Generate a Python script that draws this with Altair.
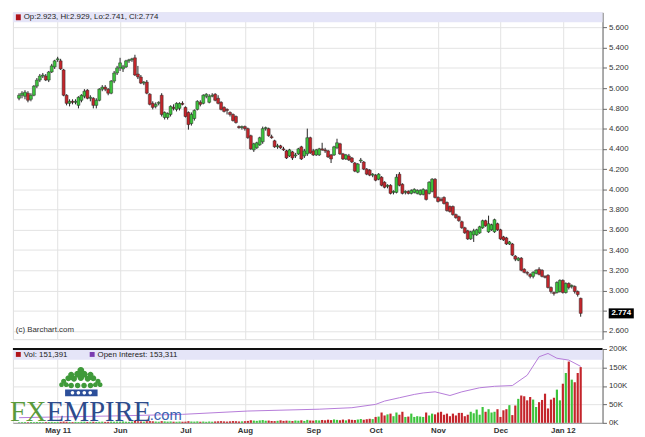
import altair as alt
import pandas as pd

# ---------------- data ----------------
opens = [4.90,4.93,4.92,4.95,4.89,4.93,5.02,5.08,5.12,5.12,
         5.08,5.16,5.21,5.28,5.27,5.18,4.93,4.85,4.87,4.86,
         4.83,4.88,4.92,4.98,4.90,4.90,4.83,4.88,4.99,5.01,
         4.99,4.95,5.07,5.15,5.20,5.19,5.21,5.27,5.28,5.30,
         5.14,5.11,5.05,5.06,4.94,4.85,4.82,4.85,4.93,4.71,
         4.71,4.74,4.81,4.79,4.80,4.85,4.81,4.76,4.65,4.70,
         4.79,4.86,4.85,4.92,4.86,4.92,4.94,4.90,4.86,4.81,
         4.79,4.76,4.74,4.72,4.62,4.61,4.62,4.60,4.53,4.39,
         4.41,4.44,4.47,4.60,4.60,4.52,4.48,4.42,4.43,4.40,
         4.38,4.33,4.37,4.33,4.35,4.42,4.33,4.35,4.51,4.38,
         4.34,4.34,4.40,4.39,4.38,4.34,4.34,4.41,4.45,4.35,
         4.30,4.33,4.31,4.26,4.17,4.28,4.27,4.20,4.19,4.14,
         4.14,4.10,4.12,4.07,4.03,4.04,3.97,3.97,4.15,4.05,
         3.97,3.98,3.96,3.97,3.96,3.95,3.95,3.99,3.96,3.98,
         4.10,3.92,3.90,3.92,3.87,3.83,3.83,3.75,3.73,3.68,
         3.62,3.59,3.51,3.55,3.55,3.57,3.62,3.69,3.58,3.60,
         3.58,3.66,3.60,3.53,3.52,3.46,3.46,3.34,3.30,3.32,
         3.21,3.18,3.16,3.14,3.17,3.21,3.20,3.14,3.15,3.03,
         2.98,2.98,2.99,3.10,2.98,3.07,3.04,3.04,2.99,2.923]
highs = [4.95,4.97,4.98,4.97,4.95,5.03,5.10,5.14,5.15,5.14,
         5.17,5.24,5.28,5.31,5.29,5.19,4.94,4.89,4.89,4.89,
         4.92,4.94,4.99,4.99,4.93,4.91,4.90,5.00,5.03,5.03,
         5.00,5.08,5.17,5.22,5.30,5.23,5.28,5.29,5.30,5.33,
         5.22,5.13,5.07,5.08,4.95,4.87,4.86,4.87,4.95,4.77,
         4.76,4.83,4.84,4.86,4.86,4.87,4.82,4.77,4.76,4.79,
         4.88,4.88,4.94,4.95,4.94,4.95,4.95,4.93,4.87,4.82,
         4.80,4.77,4.75,4.73,4.63,4.63,4.63,4.61,4.54,4.46,
         4.47,4.52,4.62,4.62,4.61,4.54,4.49,4.45,4.44,4.42,
         4.39,4.40,4.38,4.36,4.41,4.43,4.40,4.60,4.52,4.40,
         4.40,4.41,4.46,4.41,4.39,4.35,4.43,4.50,4.46,4.36,
         4.35,4.35,4.32,4.27,4.26,4.31,4.28,4.21,4.20,4.16,
         4.15,4.16,4.13,4.08,4.05,4.05,3.99,4.15,4.17,4.06,
         3.99,3.99,4.00,4.01,4.00,4.00,4.01,4.00,4.08,4.11,
         4.11,3.93,3.92,3.93,3.88,3.84,3.84,3.76,3.74,3.69,
         3.63,3.60,3.59,3.61,3.61,3.64,3.70,3.70,3.74,3.66,
         3.71,3.67,3.61,3.54,3.53,3.49,3.47,3.35,3.33,3.33,
         3.22,3.19,3.17,3.19,3.21,3.23,3.21,3.15,3.16,3.04,
         2.99,3.09,3.11,3.11,3.08,3.08,3.06,3.05,3.00,2.929]
lows = [4.88,4.90,4.89,4.86,4.87,4.92,5.00,5.06,5.10,5.07,
        5.06,5.15,5.19,5.26,5.18,4.92,4.83,4.82,4.84,4.84,
        4.80,4.86,4.90,4.89,4.87,4.80,4.80,4.87,4.97,4.97,
        4.93,4.94,5.05,5.13,5.17,5.16,5.20,5.25,5.26,5.12,
        5.09,5.04,5.03,4.94,4.83,4.79,4.80,4.83,4.72,4.69,
        4.69,4.72,4.78,4.77,4.78,4.83,4.71,4.59,4.63,4.68,
        4.78,4.82,4.84,4.90,4.85,4.91,4.87,4.84,4.78,4.76,
        4.74,4.72,4.67,4.65,4.60,4.59,4.58,4.50,4.39,4.37,
        4.40,4.43,4.45,4.58,4.52,4.50,4.41,4.40,4.40,4.38,
        4.30,4.32,4.29,4.31,4.34,4.29,4.31,4.33,4.35,4.33,
        4.33,4.33,4.38,4.36,4.31,4.26,4.33,4.40,4.34,4.29,
        4.29,4.28,4.26,4.17,4.16,4.26,4.19,4.14,4.13,4.12,
        4.08,4.09,4.03,4.01,4.01,3.95,3.95,3.96,4.03,3.95,
        3.95,3.95,3.95,3.96,3.95,3.94,3.94,3.89,3.95,3.97,
        3.91,3.87,3.88,3.85,3.78,3.77,3.74,3.71,3.68,3.61,
        3.56,3.50,3.50,3.48,3.54,3.56,3.61,3.63,3.57,3.59,
        3.57,3.59,3.50,3.49,3.45,3.45,3.34,3.29,3.29,3.19,
        3.17,3.15,3.12,3.12,3.16,3.15,3.13,3.12,3.02,2.97,
        2.95,2.97,2.98,2.97,2.97,3.01,3.02,2.97,2.94,2.741]
closes = [4.93,4.95,4.96,4.88,4.93,5.02,5.08,5.12,5.13,5.08,
          5.16,5.22,5.27,5.29,5.19,4.93,4.85,4.87,4.86,4.87,
          4.91,4.93,4.97,4.90,4.91,4.83,4.88,4.99,5.01,4.99,
          4.95,5.07,5.15,5.20,5.25,5.21,5.27,5.28,5.29,5.13,
          5.11,5.05,5.06,4.95,4.84,4.81,4.84,4.86,4.74,4.76,
          4.75,4.82,4.80,4.85,4.85,4.84,4.72,4.64,4.74,4.78,
          4.87,4.84,4.93,4.94,4.92,4.93,4.88,4.85,4.79,4.77,
          4.78,4.74,4.68,4.66,4.61,4.62,4.60,4.51,4.40,4.45,
          4.46,4.51,4.60,4.61,4.53,4.51,4.42,4.43,4.41,4.39,
          4.31,4.39,4.31,4.34,4.40,4.30,4.38,4.51,4.36,4.34,
          4.39,4.40,4.39,4.38,4.32,4.30,4.42,4.46,4.35,4.30,
          4.34,4.29,4.27,4.18,4.25,4.29,4.20,4.15,4.14,4.15,
          4.09,4.15,4.04,4.02,4.04,3.96,3.98,4.12,4.04,3.96,
          3.98,3.96,3.99,4.00,3.99,3.99,4.00,3.90,4.07,4.10,
          3.92,3.88,3.89,3.86,3.79,3.78,3.75,3.72,3.69,3.62,
          3.57,3.51,3.58,3.59,3.60,3.63,3.69,3.64,3.66,3.65,
          3.70,3.60,3.51,3.50,3.46,3.48,3.35,3.31,3.32,3.20,
          3.18,3.17,3.14,3.18,3.20,3.16,3.14,3.13,3.03,2.99,
          2.97,3.08,3.10,2.98,3.07,3.03,3.05,2.99,2.96,2.774]
volume_k = [1.5,1.8,2.0,1.6,2.2,1.9,2.4,2.1,1.7,2.0,2.3,2.6,2.2,
            2.5,2.8,3.5,3.0,2.4,2.0,2.6,2.2,2.9,3.1,2.5,2.7,3.0,2.4,2.8,3.2,2.6,2.9,3.3,3.0,3.5,
            3.2,3.8,3.0,2.7,3.4,5.2,4.0,3.6,3.1,4.4,4.8,4.2,3.5,3.0,4.6,3.9,3.3,3.7,3.1,2.9,3.4,3.0,
            3.2,4.5,3.6,3.3,3.9,3.0,3.5,2.8,3.6,3.1,3.8,4.2,4.6,3.9,3.4,4.1,4.8,4.4,3.7,4.0,
            4.5,5.2,7.0,6.1,5.4,6.6,7.5,5.8,6.2,5.0,4.7,5.5,6.8,5.3,6.0,5.6,4.9,6.3,5.7,6.9,5.2,8.0,6.4,
            6.0,7.2,6.5,7.8,6.9,8.5,7.4,9.2,8.0,7.1,8.8,6.7,9.5,8.2,7.6,9.0,10.5,8.4,9.8,11.0,10.2,
            16,17,28,20,23,25,18,28,22,30,16,17,25,16,18,17,16,28,20,25,23,
            28,30,22,25,18,25,20,27,27,18,22,30,26,36,22,43,30,37,28,30,37,
            16,34,37,48,21,47,65,74,72,61,70,63,43,56,62,79,39,63,68,90,61,
            106,135,166,117,110,135,151]
oi_idx = [0, 13, 34, 55, 77, 101, 112, 120, 123, 128, 133, 136, 140, 145, 149,
          155, 160, 166, 171, 175, 178, 181, 185, 189]
oi_k = [14, 16, 19, 23, 32, 37, 41, 50, 59, 68, 77, 81, 84, 74, 84,
        95, 99, 101, 129, 179, 188, 175, 170, 153]
month_idx = [13, 34, 56, 76, 99, 120, 141, 162, 183]
month_lbl = ["May 11", "Jun", "Jul", "Aug", "Sep", "Oct", "Nov", "Dec", "Jan 12"]
price_ticks = [2.6, 2.8, 3.0, 3.2, 3.4, 3.6, 3.8, 4.0, 4.2, 4.4, 4.6, 4.8, 5.0, 5.2, 5.4, 5.6]
vol_ticks = [0, 50000, 100000, 150000, 200000]
vol_total = 151391
oi_total = 153311

# ---------------- tables ----------------
n = len(opens)
df = pd.DataFrame({
    "i": list(range(n)), "o": opens, "h": highs, "l": lows, "c": closes,
    "v": [v * 1000 for v in volume_k],
})
df["dir"] = ["up" if c >= o else "down" for o, c in zip(opens, closes)]
oi_df = pd.DataFrame({"i": oi_idx, "oi": [v * 1000 for v in oi_k]})
one = pd.DataFrame({"a": [0]})

W, H1, H2 = 599, 332, 75
FONT = "Liberation Sans"
GRID = "#e2e2e2"
AXC = "#666666"

xscale = alt.Scale(domain=[-0.4, 194.7], nice=False, zero=False)
label_expr = "".join(f"datum.value=={m}?'{l}':" for m, l in zip(month_idx, month_lbl)) + "''"

x_main = alt.X("i:Q", scale=xscale,
               axis=alt.Axis(values=month_idx, labels=False, ticks=False, domain=False,
                             grid=True, gridColor=GRID, title=None))
pscale = alt.Scale(domain=[2.519, 5.749], nice=False, zero=False)
# the label nearest the last close is covered by the last-price box, as on the original
y_axis = alt.Axis(orient="right", values=price_ticks,
                  labelExpr=f"abs(datum.value - {closes[-1]}) < 0.1 ? '' : format(datum.value, '.3f')",
                  grid=True, gridColor=GRID,
                  tickSize=4, tickColor=AXC, domainColor=AXC, labelFontSize=8,
                  labelColor="#333", labelPadding=2, labelFont=FONT, labelOverlap=False,
                  title=None)

base = alt.Chart(df)
wicks = base.mark_rule(color="#222", strokeWidth=1).encode(
    x=x_main, y=alt.Y("l:Q", scale=pscale, axis=y_axis), y2="h:Q")
bodies = base.mark_bar(size=3, stroke="#2a2a2a", strokeWidth=0.5).encode(
    x=x_main, y=alt.Y("o:Q", scale=pscale, axis=y_axis), y2="c:Q",
    color=alt.Color("dir:N", scale=alt.Scale(domain=["up", "down"], range=["#3cc43c", "#c4252b"]),
                    legend=None))

hdr_text = "Op:{:.3f}, Hi:{:.3f}, Lo:{:.3f}, Cl:{:.3f}".format(opens[-1], highs[-1], lows[-1], closes[-1])
hdr = alt.Chart(one)
band = hdr.mark_rect(color="#e5e5f8").encode(
    x=alt.value(0), x2=alt.value(W), y=alt.value(0), y2=alt.value(10))
sq = hdr.mark_rect(color="#b0141c").encode(
    x=alt.value(3), x2=alt.value(8), y=alt.value(2), y2=alt.value(8))
htxt = hdr.mark_text(align="left", baseline="middle", fontSize=8, font=FONT, color="#222").encode(
    x=alt.value(11), y=alt.value(5), text=alt.value(hdr_text))
wm = hdr.mark_text(align="left", baseline="middle", fontSize=8, font=FONT, color="#333").encode(
    x=alt.value(3), y=alt.value(H1 - 9), text=alt.value("(c) Barchart.com"))
last_box = hdr.mark_point(shape="M-1,-0.4L1,-0.4L1,0.4L-1,0.4Z", size=650, filled=True,
                          color="black", opacity=1).encode(
    x=alt.value(W + 19), y=alt.Y(datum=closes[-1], scale=pscale, axis=y_axis))
last_txt = hdr.mark_text(fontSize=8, font=FONT, color="white", fontWeight="bold",
                         baseline="middle").encode(
    x=alt.value(W + 19), y=alt.Y(datum=closes[-1], scale=pscale, axis=y_axis),
    text=alt.value("{:.3f}".format(closes[-1])))

main = alt.layer(band, wicks, bodies, sq, htxt, wm, last_box, last_txt).properties(width=W, height=H1)

# ---------------- volume panel ----------------
x_vol = alt.X("i:Q", scale=xscale,
              axis=alt.Axis(values=month_idx, labelExpr=label_expr, ticks=False, domain=True,
                            domainColor="#999", grid=True, gridColor=GRID, labelFontSize=8,
                            labelFontWeight="bold", labelColor="#333", labelPadding=4,
                            labelFont=FONT, title=None))
vscale = alt.Scale(domain=[0, 200000], nice=False)
v_axis = alt.Axis(orient="right", values=vol_ticks, labelExpr="datum.value/1000 + 'K'", grid=True,
                  gridColor=GRID, tickSize=4, tickColor=AXC, domainColor=AXC, labelFontSize=8,
                  labelColor="#333", labelPadding=2, labelFont=FONT, labelOverlap=False,
                  title=None)

vband = hdr.mark_rect(color="#e5e5f8").encode(
    x=alt.value(0), x2=alt.value(W), y=alt.value(0), y2=alt.value(11))
vtop = hdr.mark_rule(color="#111", strokeWidth=2).encode(
    x=alt.value(0), x2=alt.value(W), y=alt.value(0))
vbars = alt.Chart(df).mark_bar(size=2.2).encode(
    x=x_vol, y=alt.Y("v:Q", scale=vscale, axis=v_axis),
    color=alt.Color("dir:N", scale=alt.Scale(domain=["up", "down"], range=["#23872a", "#e3241d"]),
                    legend=None))
oiline = alt.Chart(oi_df).mark_line(color="#b57ad8", strokeWidth=1).encode(
    x=x_vol, y=alt.Y("oi:Q", scale=vscale, axis=v_axis))
vsq = hdr.mark_rect(color="#b0141c").encode(
    x=alt.value(3), x2=alt.value(8), y=alt.value(3), y2=alt.value(8))
vtxt = hdr.mark_text(align="left", baseline="middle", fontSize=8, font=FONT, color="#222").encode(
    x=alt.value(11), y=alt.value(6), text=alt.value("Vol: {:,}".format(vol_total)))
osq = hdr.mark_rect(color="#7a3cb0").encode(
    x=alt.value(78), x2=alt.value(83), y=alt.value(3), y2=alt.value(8))
otxt = hdr.mark_text(align="left", baseline="middle", fontSize=8, font=FONT, color="#222").encode(
    x=alt.value(86), y=alt.value(6), text=alt.value("Open Interest: {:,}".format(oi_total)))


# logo: clover-leaf crown (one symbol made of circles) over a blue band, then the word mark
def circles_path(cs):
    return "".join(f"M{cx - r:.3f},{cy:.3f}a{r},{r} 0 1,0 {2 * r},0a{r},{r} 0 1,0 {-2 * r},0"
                   for cx, cy, r in cs)


leaf_cs = [(0, -0.42, 0.16), (-0.15, -0.25, 0.16), (0.15, -0.25, 0.16), (0, -0.08, 0.15),
           (-0.45, -0.22, 0.14), (-0.58, -0.06, 0.14), (-0.32, -0.04, 0.14),
           (0.45, -0.22, 0.14), (0.58, -0.06, 0.14), (0.32, -0.04, 0.14),
           (-0.8, 0.08, 0.12), (-0.9, 0.24, 0.11), (-0.68, 0.24, 0.11),
           (0.8, 0.08, 0.12), (0.9, 0.24, 0.11), (0.68, 0.24, 0.11),
           (-0.45, 0.28, 0.13), (-0.15, 0.28, 0.13), (0.15, 0.28, 0.13), (0.45, 0.28, 0.13)]
dot_cs = [(-0.6, 0, 0.12), (-0.2, 0, 0.12), (0.2, 0, 0.12), (0.6, 0, 0.12)]
crown = hdr.mark_point(shape=circles_path(leaf_cs), size=1900, filled=True, color="#3f9a3a",
                       opacity=1).encode(x=alt.value(69), y=alt.value(31))
crown_band = hdr.mark_rect(color="#2c4f9a").encode(
    x=alt.value(53), x2=alt.value(86), y=alt.value(41), y2=alt.value(48))
crown_dots = hdr.mark_point(shape=circles_path(dot_cs), size=900, filled=True, color="white",
                            opacity=1).encode(x=alt.value(69.5), y=alt.value(44.5))
fx = hdr.mark_text(align="left", baseline="alphabetic", fontSize=29, font="Liberation Serif",
                   color="#5a9a3c").encode(x=alt.value(-3), y=alt.value(73), text=alt.value("FX"))
emp = hdr.mark_text(align="left", baseline="alphabetic", fontSize=29, font="Liberation Serif",
                    color="#2d4b8c").encode(x=alt.value(34), y=alt.value(73), text=alt.value("EMPIRE"))
com = hdr.mark_text(align="left", baseline="alphabetic", fontSize=15, font="Liberation Sans",
                    color="#3a62b0").encode(x=alt.value(139), y=alt.value(72), text=alt.value(".com"))

vol = alt.layer(vband, vbars, oiline, vtop, vsq, vtxt, osq, otxt,
                crown, crown_band, crown_dots, fx, emp, com).properties(width=W, height=H2)

chart = alt.vconcat(main, vol, spacing=4).properties(
    padding={"left": 1, "top": 0, "right": 2, "bottom": 2}
).configure_view(stroke="#9a9a9a", strokeWidth=1).configure(font=FONT)

chart.save("out.html", embed_options={"renderer": "svg", "actions": False})
